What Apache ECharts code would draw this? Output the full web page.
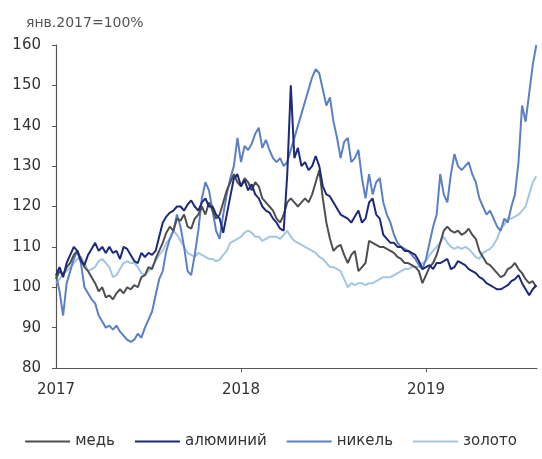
<!DOCTYPE html>
<html>
<head>
<meta charset="utf-8">
<script src="https://cdn.jsdelivr.net/npm/echarts@6/dist/echarts.min.js"></script>
<style>
html,body{margin:0;padding:0;background:#fff;}
#c{width:542px;height:459px;}
</style>
</head>
<body>
<div id="c"></div>
<script>
// weekly observations starting first week of January 2017 (index 0)
const startYear = 2017;
const weeksPerYear = 52;
const yearTicks = [2017, 2018, 2019];
const yTicks = [80, 90, 100, 110, 120, 130, 140, 150, 160];
const seriesNames = ['медь', 'алюминий', 'никель', 'золото'];

const copper = [102,104,103,105,106,108,109,107,105,104,102.5,101,99,100,97.5,98,97,98.5,99.5,98.5,
100,99.5,100.5,100,102.5,103,105,104.5,107,109,111,113.5,115,114,117,116.5,118,115,114.5,117,
118,120,118,121,119,117,118,121,124,126,128,126,125,127,126,124,126,125,122,121,
120,119,117,116,118,121,122,121,120,121,122,121,123,126,129,122,116,112,109,110,
110.5,108,106,108,109,104,105,106,111.5,111,110.5,110,110,109.5,109,108.5,107.5,107,106,106,
105.5,105,104,101,103,105,106,108,111,114,115,114,113.5,114,113,113.5,114.5,113,112,109,
107.5,106,105.5,104.5,103.5,102.5,103,104.5,105,106,104.5,103.5,102,101,101.5,100];

const aluminium = [103,105,102.5,106,108,110,109,106.5,105.5,108,109.5,111,109,110,108.5,110,108.5,109,107,110,
109.5,108,106.5,106,108.5,107.5,108.5,108,109,112.5,116,117.5,118.5,119,120,120,119,120.5,121.5,120,
119,121,122,120,120,118,117,113.5,118,122.5,127,128,125,126.5,124,125.5,123,122,120,119,
118.5,117,116,114.5,114,128,150,132,134.5,130,131,129,130,132.5,130,125,123,122.5,121,119.5,
118,117.5,117,116,117.5,119,116,117,121,122,118,117,113,112,111,111,110,110,109,109,
108.5,108,106.5,104.5,105,105.5,104.5,106,106,106.5,107,104.5,105,106.5,106,105.5,104.5,104,103.5,102.5,
102,101,100.5,100,99.5,99.5,100,100.5,101.5,102,103,101,99.5,98,99.5,100.5];

const nickel = [103,99,93,101,104,107,109,106,100,98.5,97,96,93,91.5,90,90.5,89.5,90.5,89,88,
87,86.5,87,88.5,87.5,90,92,94,98,102,104,109,112,114,118,115,110,104,103,108,
114,122,126,124,119,114,112,118,123,127,130,137,131,135,134,135.5,138,139.5,134.5,136.5,
134,132,131,132,130,131,134,137,140,143,146,149,152,154,153,149,145,147,141,137,
132,136,137,131,132,134,127,122,128,123,126,127,121,118,116,113,111,110,109.5,109,
108,107,105.5,104.5,107,111,115,118,128,123,121,128,133,130,129,130,131,128,126,122,
120,118,119,117,115,114,117,116,120,123,131,145,141,148,155,160];

const gold = [101,102,103.5,104,105,106,107,107.5,106,104,104.5,105,106.5,107,106,105,102.5,103,104.5,106,
106.5,106,106,105,103.5,103,104,105,106.5,108,109,111,112,114,113,111.5,110,108.5,108,107.5,
108.5,108,107.5,107,107,106.5,106.8,108,109,111,111.5,112,112.5,113.5,114,113.5,112.5,112.5,111.5,112,
112.5,112.5,112.5,112,113,114,112.5,111.5,111,110.5,110,109.5,109,108.5,107.5,107,106,105,105,104.5,
104,102,100,101,100.5,101,101,100.5,101,101,101.5,102,102.5,102.5,102.5,103,103.5,104,104.5,104.5,
105,105,105,106,106.5,108,109,110,111,112.5,111,110,109.5,110,109.5,110,109.5,108.5,107.5,107,
108.5,109,109.5,110.5,112,114.5,115.5,117,117,117.5,118,119,120,123,126,127.5];

const colors = ['#4f4f4f', '#1d2a7a', '#5b80c6', '#a2c7e5'];
const allSeries = [copper, aluminium, nickel, gold];

function toPairs(arr) {
  return arr.map((v, i) => [startYear + i / weeksPerYear, v]);
}

const chart = echarts.init(document.getElementById('c'), null, {renderer: 'canvas'});
const font = 'DejaVu Sans, sans-serif';

chart.setOption({
  animation: false,
  backgroundColor: '#fff',
  color: colors,
  title: {
    text: 'янв.2017=100%',
    left: 21,
    top: 11,
    textStyle: {fontFamily: font, fontSize: 14, fontWeight: 'normal', color: '#555'}
  },
  grid: {left: 56, right: 5, top: 45, bottom: 91, containLabel: false},
  legend: {
    bottom: 5,
    left: 'center',
    itemWidth: 45,
    itemHeight: 2,
    itemGap: 20,
    icon: 'rect',
    textStyle: {fontFamily: font, fontSize: 15, color: '#333'},
    data: seriesNames
  },
  xAxis: {
    type: 'value',
    min: 2017,
    max: 2019.6,
    interval: 1,
    axisLine: {lineStyle: {color: '#555', width: 1.2}},
    axisTick: {show: true, length: 4, lineStyle: {color: '#555'}, customValues: [2018, 2019]},
    axisLabel: {
      customValues: yearTicks,
      formatter: v => String(Math.round(v)),
      fontFamily: font, fontSize: 15, color: '#333', margin: 15
    },
    splitLine: {show: false}
  },
  yAxis: {
    type: 'value',
    min: 80,
    max: 160,
    interval: 10,
    axisLine: {show: true, lineStyle: {color: '#555', width: 1.2}},
    axisTick: {show: true, length: 4, lineStyle: {color: '#555'}},
    axisLabel: {fontFamily: font, fontSize: 15, color: '#333', margin: 15},
    splitLine: {show: false}
  },
  series: seriesNames.map((name, k) => ({
    name: name,
    type: 'line',
    data: toPairs(allSeries[k]),
    showSymbol: false,
    symbol: 'none',
    lineStyle: {width: 2, color: colors[k]},
    itemStyle: {color: colors[k]},
    z: k === 1 ? 4 : (k === 0 ? 3 : (k === 2 ? 2 : 1))
  }))
});
</script>
</body>
</html>
